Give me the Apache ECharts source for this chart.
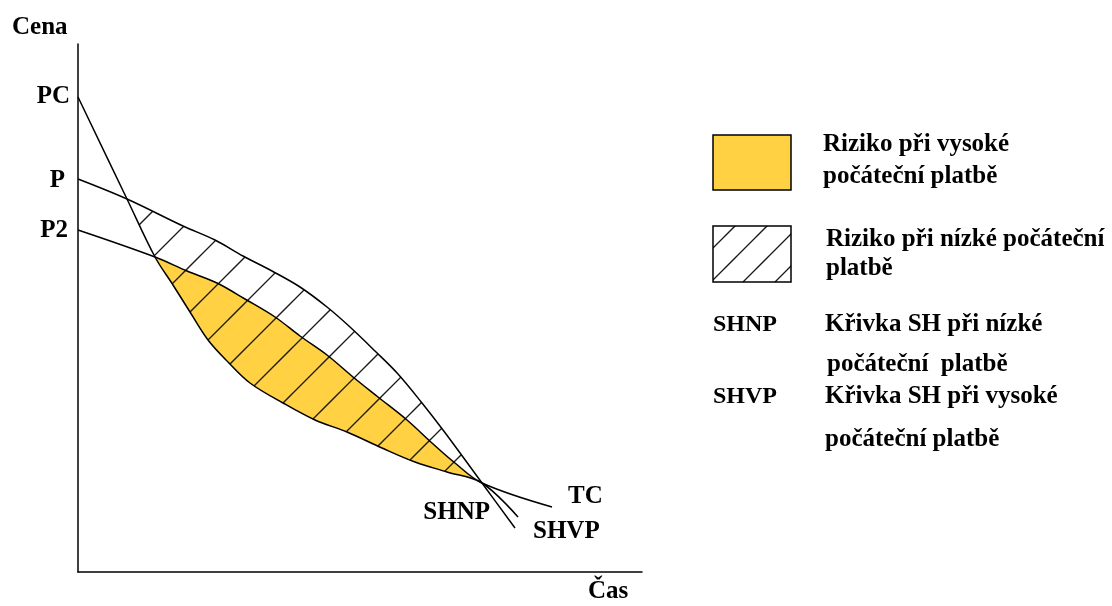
<!DOCTYPE html>
<html><head><meta charset="utf-8">
<script src="https://cdn.jsdelivr.net/npm/echarts@6/dist/echarts.min.js"></script>
<style>html,body{margin:0;padding:0;background:#fff}#c{width:1112px;height:606px}</style>
</head><body><div id="c"></div>
<script>
// ---- data (time = Čas, price = Cena) ----
const shvpTime  = [0, 49, 77, 95, 112, 130, 150, 172, 205, 237, 269, 304, 337, 369, 404, 440];
const shvpPrice = [475, 373, 315, 287, 260, 232, 210, 189, 169, 152, 140, 124, 110, 100, 89, 55];
const shnpTime  = [0, 49, 105, 137, 165, 194, 222, 249, 272, 297, 320, 344, 365, 385, 404, 437];
const shnpPrice = [393, 373, 346, 332, 316, 301, 285, 265, 245, 221, 198, 169, 142, 115, 89, 44];
const tcTime    = [0, 77, 109, 139, 167, 197, 222, 249, 275, 300, 329, 354, 377, 404, 474];
const tcPrice   = [342, 315, 301, 289, 273, 255, 236, 217, 195, 175, 152, 129, 109, 89, 65];
const startLabels = ['PC', 'P', 'P2'];
const endLabels = ['SHVP', 'SHNP', 'TC'];
const axisNames = ['Cena', 'Čas'];
const legendRisk = [['Riziko při vysoké', 'počáteční platbě'], ['Riziko při nízké počáteční', 'platbě']];
const legendCurves = [['SHNP', 'Křivka SH při nízké', 'počáteční  platbě'], ['SHVP', 'Křivka SH při vysoké', 'počáteční platbě']];

const pts = (t, p) => t.map((x, i) => [x, p[i]]);
const shvp = pts(shvpTime, shvpPrice), shnp = pts(shnpTime, shnpPrice), tc = pts(tcTime, tcPrice);

const YELLOW = '#FFD143';
const FF = '"Liberation Serif","Times New Roman",serif';
const SMOOTH = 0.35;

function hatch(period, offset) {
  const c = document.createElement('canvas');
  c.width = period; c.height = period;
  const g = c.getContext('2d');
  g.strokeStyle = '#1a1a1a'; g.lineWidth = 1.3;
  for (let k = -2; k <= 3; k++) {
    const s = offset + k * period;
    g.beginPath(); g.moveTo(-period, s + period); g.lineTo(s + period, -period); g.stroke();
  }
  return { image: c, repeat: 'repeat' };
}
const chartHatch = hatch(46, 42);
const legendHatch = hatch(32, 1);

// control points of a smoothed polyline (same idea as the line series' smoothing), pixel space
function controls(P, s) {
  const n = P.length, out = [];
  const clamp = (v, a, b) => Math.max(Math.min(v, Math.max(a, b)), Math.min(a, b));
  for (let i = 0; i < n; i++) {
    const p = P[i];
    if (i === 0 || i === n - 1) { out.push({ cin: p, cout: p }); continue; }
    const a = P[i - 1], b = P[i + 1];
    const vx = b[0] - a[0], vy = b[1] - a[1];
    const l0 = Math.hypot(p[0] - a[0], p[1] - a[1]), l1 = Math.hypot(b[0] - p[0], b[1] - p[1]);
    const r = l1 / (l0 + l1);
    let ox = clamp(p[0] + vx * s * r, p[0], b[0]), oy = clamp(p[1] + vy * s * r, p[1], b[1]);
    let ix = clamp(p[0] - (ox - p[0]) * l0 / l1, a[0], p[0]), iy = clamp(p[1] - (oy - p[1]) * l0 / l1, a[1], p[1]);
    ox = p[0] + (p[0] - ix) * l1 / l0; oy = p[1] + (p[1] - iy) * l1 / l0;
    out.push({ cin: [ix, iy], cout: [ox, oy] });
  }
  return out;
}
function bez(p0, c1, c2, p1, t) {
  const u = 1 - t;
  return [0, 1].map(k => u * u * u * p0[k] + 3 * u * u * t * c1[k] + 3 * u * t * t * c2[k] + t * t * t * p1[k]);
}
// sampled smooth path along P from index i0 to i1 (either direction)
function trace(P, i0, i1) {
  const C = controls(P, SMOOTH), res = [];
  const dir = i1 > i0 ? 1 : -1;
  for (let i = i0; i !== i1; i += dir) {
    const j = i + dir;
    const c1 = dir > 0 ? C[i].cout : C[i].cin, c2 = dir > 0 ? C[j].cin : C[j].cout;
    for (let k = 0; k < 12; k++) res.push(bez(P[i], c1, c2, P[j], k / 12));
  }
  res.push(P[i1]);
  return res;
}

const txt = (x, y, text, align, size) => ({ type: 'text', x, y, style: { text, fill: '#000', font: 'bold ' + (size || 25) + 'px ' + FF, align: align || 'left', verticalAlign: 'middle' } });

const chart = echarts.init(document.getElementById('c'), null, { renderer: 'canvas' });
const labelCfg = [
  { p: shvp[0], t: startLabels[0], dx: -8, dy: 0, a: 'right' },
  { p: shnp[0], t: startLabels[1], dx: -13, dy: 2, a: 'right' },
  { p: tc[0], t: startLabels[2], dx: -10, dy: 1, a: 'right' },
  { p: shvp[shvp.length - 1], t: endLabels[0], dx: 15, dy: 15, a: 'left' },
  { p: shnp[shnp.length - 1], t: endLabels[1], dx: -25, dy: -15, a: 'right' },
  { p: tc[tc.length - 1], t: endLabels[2], dx: 16, dy: -10, a: 'left' }
];
const lineStyle = { color: '#000', width: 1.5 };
chart.setOption({
  animation: false,
  grid: { left: 78, top: 44, right: 470, bottom: 34 },
  xAxis: { type: 'value', min: 0, max: 564, axisLine: { lineStyle: { color: '#000', width: 1.5 } }, axisTick: { show: false }, axisLabel: { show: false }, splitLine: { show: false } },
  yAxis: { type: 'value', min: 0, max: 528, axisLine: { show: true, lineStyle: { color: '#000', width: 1.5 } }, axisTick: { show: false }, axisLabel: { show: false }, splitLine: { show: false } },
  series: [
    {
      type: 'custom', silent: true, clip: false, z: 1, data: [[0, 0]],
      renderItem: function (params, api) {
        const c = p => api.coord(p);
        const SV = shvp.map(c), SN = shnp.map(c), T = tc.map(c);
        const yellow = trace(T, 1, 13).concat(trace(SV, 14, 2));
        const hat = trace(SN, 1, 14).concat(trace(SV, 14, 1));
        const children = [
          { type: 'polygon', shape: { points: yellow }, style: { fill: YELLOW } },
          { type: 'polygon', shape: { points: hat }, style: { fill: chartHatch } }
        ];
        labelCfg.forEach(l => { const q = c(l.p); children.push(txt(q[0] + l.dx, q[1] + l.dy, l.t, l.a)); });
        return { type: 'group', children };
      }
    },
    { name: 'SHVP', type: 'line', data: shvp, symbol: 'none', smooth: SMOOTH, lineStyle, z: 3, silent: true },
    { name: 'SHNP', type: 'line', data: shnp, symbol: 'none', smooth: SMOOTH, lineStyle, z: 3, silent: true },
    { name: 'TC', type: 'line', data: tc, symbol: 'none', smooth: SMOOTH, lineStyle, z: 3, silent: true }
  ],
  graphic: [
    txt(12, 28, axisNames[0]),
    txt(588, 592, axisNames[1]),
    { type: 'rect', shape: { x: 713, y: 135, width: 78, height: 55 }, style: { fill: YELLOW, stroke: '#000', lineWidth: 1.5 } },
    { type: 'rect', shape: { x: 713, y: 226, width: 78, height: 56 }, style: { fill: legendHatch, stroke: '#000', lineWidth: 1.5 } },
    txt(823, 145, legendRisk[0][0]), txt(823, 177, legendRisk[0][1]),
    txt(826, 240, legendRisk[1][0]), txt(826, 269, legendRisk[1][1]),
    txt(713, 325, legendCurves[0][0], 'left', 24), txt(825, 325, legendCurves[0][1]), txt(827, 365, legendCurves[0][2]),
    txt(713, 397, legendCurves[1][0], 'left', 24), txt(825, 397, legendCurves[1][1]), txt(825, 440, legendCurves[1][2])
  ]
});
</script></body></html>
